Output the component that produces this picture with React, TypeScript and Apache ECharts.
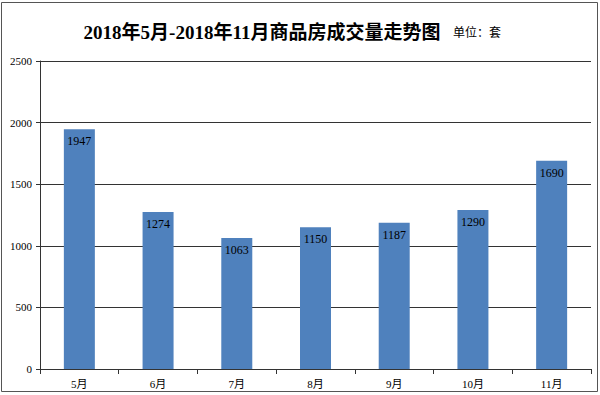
import React, { useEffect, useRef } from "react";
import * as echarts from "echarts";

const categories = ["5月", "6月", "7月", "8月", "9月", "10月", "11月"];
const salesValues = [1947, 1274, 1063, 1150, 1187, 1290, 1690];
const titleText = "2018年5月-2018年11月商品房成交量走势图";
const unitText = "单位：套";

export default function App() {
  const ref = useRef<HTMLDivElement>(null);
  useEffect(() => {
    document.body.style.margin = "0";
    const chart = echarts.init(ref.current!, null, { renderer: "svg" });
    const serif = "'Liberation Serif', 'DejaVu Serif', 'Noto Sans CJK SC', serif";
    chart.setOption({
      animation: false,
      backgroundColor: "#ffffff",
      grid: { left: 40, right: 9, top: 61, bottom: 26, containLabel: false },
      xAxis: {
        type: "category",
        data: categories,
        axisLine: { lineStyle: { color: "#333", width: 1 } },
        axisTick: { show: true, length: 5, lineStyle: { color: "#333" } },
        axisLabel: { color: "#000", fontSize: 11, fontFamily: serif, margin: 9 },
      },
      yAxis: {
        type: "value",
        min: 0,
        max: 2500,
        interval: 500,
        axisLine: { show: true, lineStyle: { color: "#333" } },
        axisTick: { show: true, length: 4, lineStyle: { color: "#333" } },
        axisLabel: {
          color: "#000",
          fontSize: 11,
          fontFamily: serif,
          margin: 8,
          formatter: (v: number) => String(v),
        },
        splitLine: { lineStyle: { color: "#333", width: 1 } },
      },
      series: [
        {
          type: "bar",
          data: salesValues,
          barWidth: 31,
          itemStyle: { color: "#4F81BD" },
          label: {
            show: true,
            position: "insideTop",
            distance: 6,
            color: "#000",
            fontSize: 12,
            fontFamily: serif,
          },
        },
      ],
      graphic: [
        {
          type: "rect",
          shape: { x: 1.5, y: 2.5, width: 596, height: 389 },
          style: { fill: "none", stroke: "#555", lineWidth: 1 },
          silent: true,
          z: 10,
        },
        {
          type: "text",
          x: 262,
          y: 32,
          style: {
            text: titleText,
            fill: "#000",
            font: `bold 19px ${serif}`,
            textAlign: "center",
            textVerticalAlign: "middle",
          },
        },
        {
          type: "text",
          x: 453,
          y: 33,
          style: {
            text: unitText,
            fill: "#000",
            font: `12px ${serif}`,
            textAlign: "left",
            textVerticalAlign: "middle",
          },
        },
      ],
    });
    return () => chart.dispose();
  }, []);
  return <div ref={ref} style={{ width: 600, height: 395 }} />;
}
